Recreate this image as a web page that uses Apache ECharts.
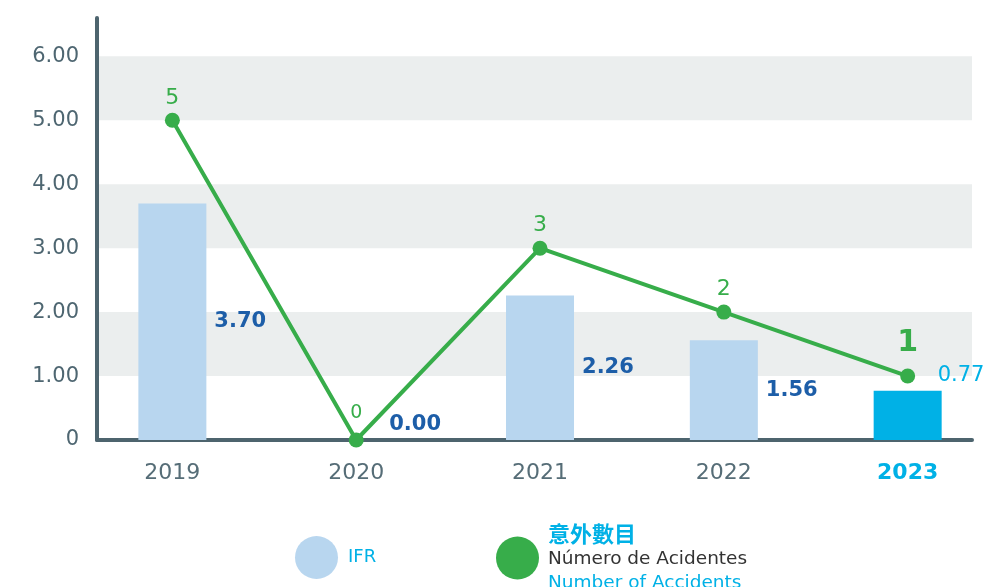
<!DOCTYPE html>
<html>
<head>
<meta charset="utf-8">
<script src="https://cdn.jsdelivr.net/npm/echarts@6/dist/echarts.min.js"></script>
<style>
  html, body { margin: 0; padding: 0; background: #fff; }
  #chart { width: 986px; height: 587px; }
</style>
</head>
<body>
<div id="chart"></div>
<script>
// 数据
const years = [2019, 2020, 2021, 2022, 2023];
const ifrValues = [3.70, 0.00, 2.26, 1.56, 0.77];
const accidentValues = [5, 0, 3, 2, 1];
const yTicks = [0, 1, 2, 3, 4, 5, 6];

const FONT = 'DejaVu Sans';
const AXIS_COLOR = '#4d646e';
const GREEN = '#37ad4a';
const LIGHT_BLUE = '#b8d6ef';
const CYAN = '#00b1e6';
const DARK_BLUE = '#1d5ea8';

const chart = echarts.init(document.getElementById('chart'), null, { renderer: 'canvas' });

// 柱子：最后一年高亮，标签位置单独调
const barData = years.map((y, i) => {
  const item = { value: [y, ifrValues[i]] };
  if (i === years.length - 1) {
    item.itemStyle = { color: CYAN };
    item.label = { color: CYAN, fontWeight: 'normal', offset: [-12, -40] };
  } else if (ifrValues[i] === 0) {
    item.label = { offset: [-9, -15] };
  }
  return item;
});

// 折线：最后一个点的数字更大
const lineData = years.map((y, i) => {
  const item = { value: [y, accidentValues[i]] };
  if (i === years.length - 1) {
    item.label = { fontSize: 30, fontWeight: 'bold', distance: 10 };
  } else if (accidentValues[i] === 0) {
    item.label = { fontSize: 19, distance: 10 };
  }
  return item;
});

const option = {
  backgroundColor: '#ffffff',
  animation: false,
  grid: { left: 97, right: 14, top: 18, bottom: 147, outerBoundsMode: 'none' },
  xAxis: {
    type: 'value',
    min: 2018.59,
    max: 2023.35,
    axisLine: { show: true, lineStyle: { color: AXIS_COLOR, width: 4 } },
    axisTick: { show: false },
    splitLine: { show: false },
    axisLabel: {
      customValues: years,
      margin: 22,
      fontFamily: FONT,
      fontSize: 22,
      color: '#566d77',
      formatter: v => (v === years[years.length - 1] ? '{h|' + v + '}' : String(v)),
      rich: {
        h: { fontFamily: FONT, fontSize: 22, fontWeight: 'bold', color: CYAN }
      }
    }
  },
  yAxis: {
    type: 'value',
    min: 0,
    max: 6.6,
    interval: 1,
    axisLine: { show: true, lineStyle: { color: AXIS_COLOR, width: 4 } },
    axisTick: { show: false },
    splitLine: { show: false },
    splitArea: { show: true, areaStyle: { color: ['rgba(255,255,255,0)', '#ebeeee'] } },
    axisLabel: {
      margin: 18,
      fontFamily: FONT,
      fontSize: 21,
      color: '#4e6671',
      formatter: v => (v === 0 ? '0' : (yTicks.indexOf(v) >= 0 ? v.toFixed(2) : ''))
    }
  },
  legend: [
    {
      data: [{ name: 'IFR', icon: 'circle', itemStyle: { color: LIGHT_BLUE } }],
      left: 290, top: 531,
      itemWidth: 43, itemHeight: 43,
      selectedMode: false,
      formatter: '{a|{name}}',
      textStyle: {
        rich: { a: { fontFamily: FONT, fontSize: 18, color: CYAN, padding: [0, 0, 0, 5] } }
      }
    },
    {
      data: [{ name: 'Acidentes', icon: 'circle', itemStyle: { color: GREEN, borderWidth: 0 } }],
      left: 491, top: 518,
      itemWidth: 43, itemHeight: 43,
      selectedMode: false,
      formatter: () => '{t|意外數目}\n{p|Número de Acidentes}\n{e|Number of Accidents}',
      textStyle: {
        rich: {
          t: { fontFamily: 'Noto Sans CJK TC', fontSize: 22, fontWeight: 'bold', color: CYAN, lineHeight: 26, padding: [0, 0, 0, 4] },
          p: { fontFamily: FONT, fontSize: 18.5, color: '#333333', lineHeight: 24, padding: [0, 0, 0, 4] },
          e: { fontFamily: FONT, fontSize: 18.5, color: CYAN, lineHeight: 24, padding: [0, 0, 0, 4] }
        }
      }
    }
  ],
  series: [
    {
      name: 'IFR',
      type: 'bar',
      barWidth: 68,
      itemStyle: { color: LIGHT_BLUE },
      label: {
        show: true,
        position: 'right',
        distance: 8,
        fontFamily: FONT,
        fontSize: 21,
        fontWeight: 'bold',
        color: DARK_BLUE,
        formatter: p => p.value[1].toFixed(2)
      },
      data: barData,
      z: 2
    },
    {
      name: 'Acidentes',
      type: 'line',
      symbol: 'circle',
      symbolSize: 15,
      lineStyle: { color: GREEN, width: 4 },
      itemStyle: { color: GREEN },
      label: {
        show: true,
        position: 'top',
        distance: 4,
        fontFamily: FONT,
        fontSize: 22,
        color: GREEN,
        formatter: p => String(p.value[1])
      },
      data: lineData,
      z: 3
    }
  ]
};

chart.setOption(option);
</script>
</body>
</html>
